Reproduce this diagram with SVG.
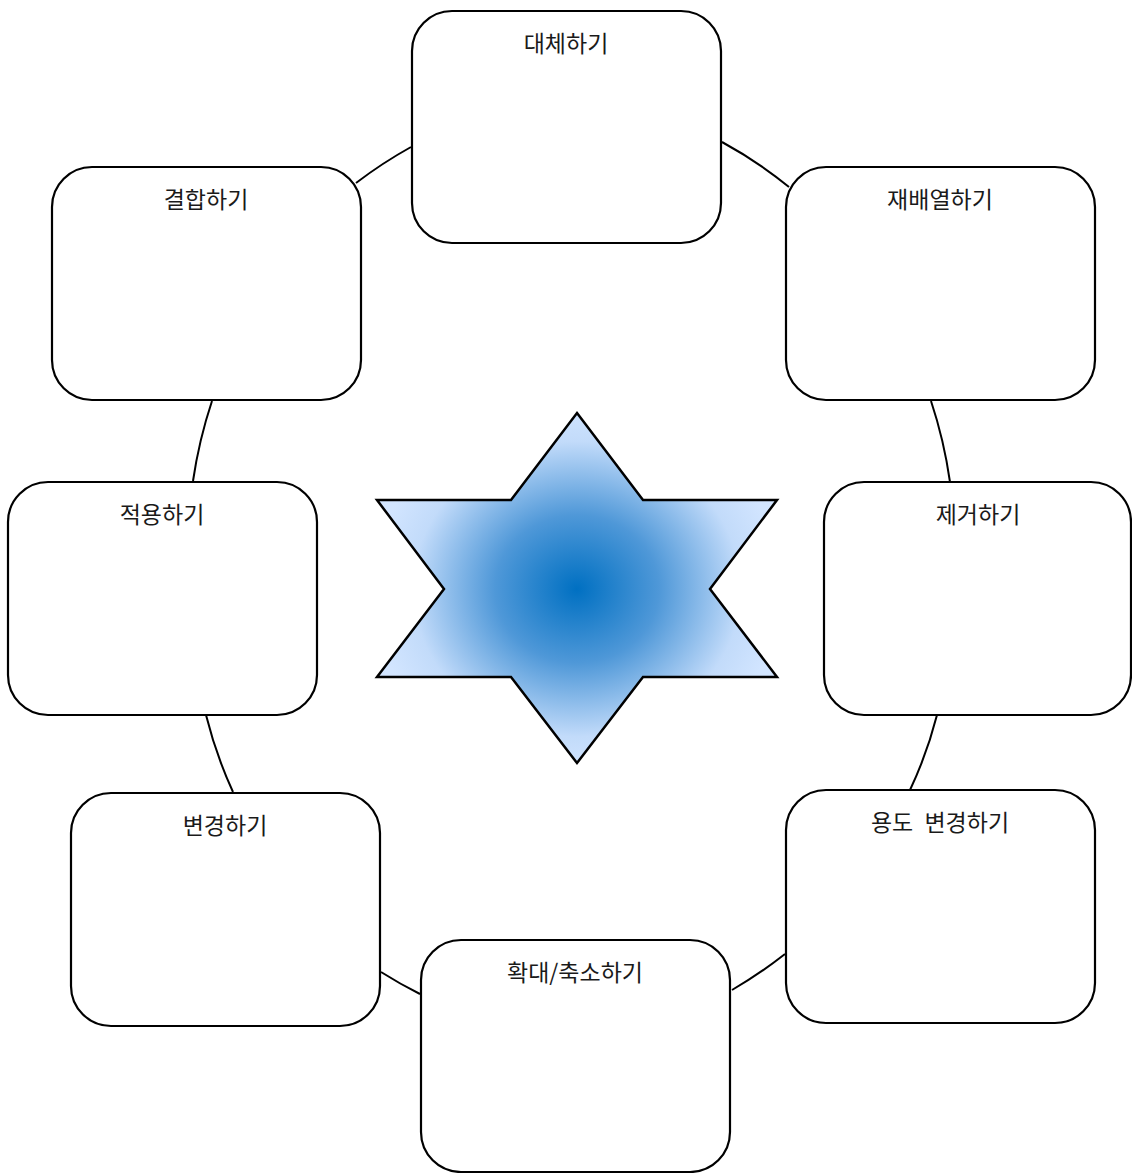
<svg xmlns="http://www.w3.org/2000/svg" width="1132" height="1173" viewBox="0 0 1132 1173">
<style>
.box{fill:#fff;stroke:#000;stroke-width:2.2}
.lbl{font-family:"Noto Sans CJK KR","Noto Sans",sans-serif;font-size:23px;fill:#1a1a1a;text-anchor:middle}
.con{fill:none;stroke:#000;stroke-width:2}
</style>
<defs>
<radialGradient id="sg" cx="577" cy="589" r="205" gradientUnits="userSpaceOnUse" gradientTransform="translate(577 589) scale(1 0.9) translate(-577 -589)">
<stop offset="0" stop-color="#0070C2"/>
<stop offset="0.4" stop-color="#4F98D8"/>
<stop offset="0.8" stop-color="#C2DBFA"/>
<stop offset="1" stop-color="#D2E5FF"/>
</radialGradient>
</defs>
<rect width="1132" height="1173" fill="#fff"/>
<g id="connectors">
<path class="con" d="M356,183 Q382.5,162.8 411,147"/>
<path class="con" d="M722,142 Q757,161 789,187"/>
<path class="con" d="M212,401 Q199,440 193,481"/>
<path class="con" d="M931,401 Q944,440 950,482"/>
<path class="con" d="M206,715 Q216,755 233,792"/>
<path class="con" d="M937,715 Q927,754 910,790"/>
<path class="con" d="M381,972 Q400,984 420,994"/>
<path class="con" d="M732,990 Q759.5,974 785,954"/>
</g>
<g id="star">
<polygon points="577,413 643,500 777,500 710,589 777,677 643,677 577,763 511,677 377,677 444,589 377,500 511,500" fill="url(#sg)" stroke="#000" stroke-width="2.5" stroke-linejoin="miter"/>
</g>
<g id="n1"><rect class="box" x="412" y="11" width="309" height="232" rx="40"/><text class="lbl" x="566" y="52">대체하기</text></g>
<g id="n2"><rect class="box" x="786" y="167" width="309" height="233" rx="40"/><text class="lbl" x="940" y="208">재배열하기</text></g>
<g id="n3"><rect class="box" x="824" y="482" width="307" height="233" rx="40"/><text class="lbl" x="978" y="523">제거하기</text></g>
<g id="n4"><rect class="box" x="786" y="790" width="309" height="233" rx="40"/><text class="lbl" x="940" y="831" word-spacing="6">용도 변경하기</text></g>
<g id="n5"><rect class="box" x="421" y="940" width="309" height="232" rx="40"/><text class="lbl" x="575" y="981">확대/축소하기</text></g>
<g id="n6"><rect class="box" x="71" y="793" width="309" height="233" rx="40"/><text class="lbl" x="225" y="834">변경하기</text></g>
<g id="n7"><rect class="box" x="8" y="482" width="309" height="233" rx="40"/><text class="lbl" x="162" y="523">적용하기</text></g>
<g id="n8"><rect class="box" x="52" y="167" width="309" height="233" rx="40"/><text class="lbl" x="206" y="208">결합하기</text></g>
</svg>
